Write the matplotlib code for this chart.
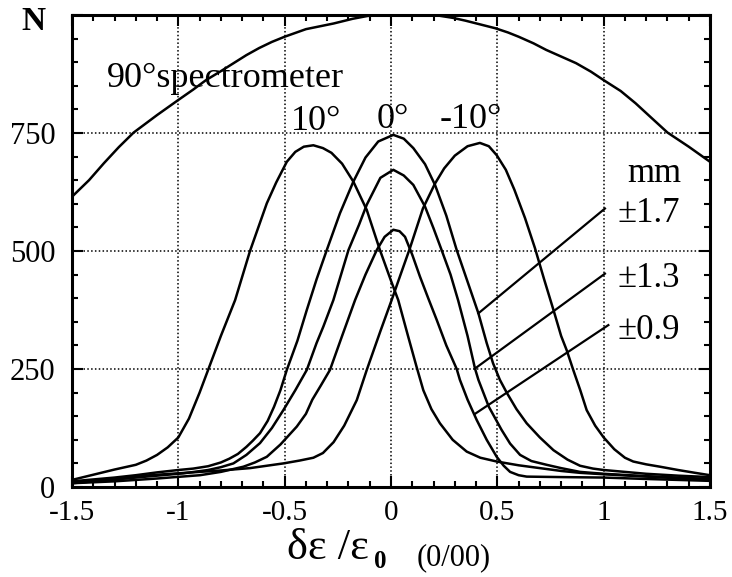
import matplotlib.pyplot as plt
from matplotlib.ticker import MultipleLocator

plt.rcParams['font.family'] = ['Liberation Serif', 'DejaVu Serif']

# 90 degree spectrometer acceptance curve
spec_x = [-1.5, -1.42, -1.35, -1.28, -1.21, -1.1, -1.0, -0.93, -0.87, -0.8, -0.74, -0.68,
          -0.62, -0.56, -0.5, -0.4, -0.27, -0.18, -0.11, -0.04, 0.05, 0.15, 0.22, 0.29,
          0.35, 0.42, 0.49, 0.55, 0.6, 0.67, 0.73, 0.8, 0.87, 0.94, 1.0, 1.08, 1.15,
          1.22, 1.3, 1.35, 1.4, 1.45, 1.5]
spec_n = [615, 650, 686, 720, 751, 788, 820, 842, 862, 881, 898, 915,
          930, 943, 954, 970, 982, 992, 998, 1000, 1000, 1000, 999, 994,
          988, 980, 972, 963, 954, 940, 926, 912, 898, 880, 862, 839, 813,
          784, 751, 736, 721, 705, 689]

# 10 deg
p10_x = [-1.5, -1.4, -1.3, -1.2, -1.15, -1.1, -1.05, -1.0, -0.95, -0.9, -0.86, -0.8,
         -0.733, -0.7, -0.663, -0.62, -0.584, -0.54, -0.49, -0.45, -0.41, -0.365, -0.32,
         -0.28, -0.23, -0.177, -0.114, -0.052, 0.0, 0.034, 0.08, 0.12, 0.152, 0.19, 0.23,
         0.29, 0.356, 0.42, 0.497, 0.6, 0.7, 0.8, 0.889, 1.0, 1.2, 1.5]
p10_n = [15, 26, 37, 47, 56, 68, 84, 105, 145, 200, 248, 320,
         396, 445, 500, 555, 601, 645, 689, 710, 721, 724, 718,
         708, 685, 647, 587, 502, 437, 396, 320, 255, 205, 165, 135,
         100, 75, 62, 54, 46, 40, 34, 30, 27, 22, 15]

# -10 deg
m10_x = [-1.5, -1.3, -1.133, -1.0, -0.8, -0.663, -0.569, -0.506, -0.43, -0.365, -0.32,
         -0.27, -0.22, -0.161, -0.114, -0.05, 0.003, 0.045, 0.089, 0.15, 0.207, 0.25, 0.3,
         0.36, 0.418, 0.46, 0.497, 0.54, 0.58, 0.63, 0.677, 0.72, 0.764, 0.8, 0.826, 0.857,
         0.89, 0.92, 0.96, 1.0, 1.05, 1.1, 1.139, 1.2, 1.265, 1.35, 1.43, 1.5]
m10_n = [8, 16, 25, 29, 35, 40, 46, 50, 56, 62, 72,
         95, 130, 184, 248, 330, 396, 450, 506, 590, 643, 675, 702,
         722, 729, 722, 703, 672, 630, 570, 506, 440, 375, 320, 290, 248,
         205, 163, 130, 105, 80, 62, 54, 48, 43, 36, 30, 25]

# 0 deg, slit +-1.7 mm
z17_x = [-1.5, -1.3, -1.2, -1.1, -1.0, -0.93, -0.86, -0.8, -0.76, -0.72, -0.68, -0.65,
         -0.616, -0.58, -0.55, -0.52, -0.49, -0.44, -0.396, -0.35, -0.302, -0.24, -0.177,
         -0.12, -0.06, 0.011, 0.06, 0.105, 0.16, 0.207, 0.26, 0.309, 0.36, 0.411, 0.45,
         0.48, 0.512, 0.544, 0.59, 0.638, 0.7, 0.764, 0.83, 0.889, 0.95, 1.0, 1.1, 1.2,
         1.35, 1.5]
z17_n = [12, 20, 25, 31, 36, 39, 44, 52, 60, 70, 85, 98,
         114, 140, 170, 205, 248, 310, 375, 440, 502, 580, 647,
         698, 732, 746, 738, 718, 684, 640, 575, 502, 435, 368, 305,
         262, 227, 200, 165, 135, 105, 78, 58, 45, 39, 36, 32, 28,
         24, 21]

# 0 deg, slit +-1.3 mm
z13_x = [-1.5, -1.3, -1.2, -1.1, -0.976, -0.86, -0.8, -0.741, -0.68, -0.616, -0.56, -0.506,
         -0.45, -0.396, -0.35, -0.318, -0.271, -0.2, -0.15, -0.114, -0.05, 0.011, 0.06,
         0.105, 0.16, 0.2, 0.238, 0.28, 0.316, 0.36, 0.395, 0.411, 0.46, 0.52, 0.56, 0.607,
         0.66, 0.732, 0.8, 0.889, 1.0, 1.2, 1.5]
z13_n = [10, 16, 20, 24, 29, 36, 42, 50, 68, 93, 125, 163,
         205, 248, 305, 340, 396, 502, 556, 598, 655, 672, 660,
         640, 594, 548, 502, 450, 395, 320, 251, 227, 170, 121, 92, 68,
         55, 47, 40, 32, 28, 23, 17]

# 0 deg, slit +-0.9 mm
z09_x = [-1.5, -1.3, -1.1, -0.898, -0.8, -0.694, -0.64, -0.584, -0.52, -0.443, -0.4, -0.37,
         -0.33, -0.287, -0.23, -0.169, -0.12, -0.067, -0.03, 0.011, 0.04, 0.066, 0.1, 0.136,
         0.175, 0.215, 0.26, 0.309, 0.324, 0.36, 0.403, 0.45, 0.497, 0.53, 0.56, 0.6, 0.638,
         0.8, 1.0, 1.2, 1.5]
z09_n = [8, 12, 18, 25, 32, 43, 52, 64, 90, 128, 155, 185,
         215, 248, 320, 396, 450, 502, 530, 545, 542, 530, 492, 446,
         400, 354, 300, 250, 227, 185, 142, 100, 64, 45, 32, 25, 22,
         21, 20, 17, 13]

slit_labels = ['\u00b11.7', '\u00b11.3', '\u00b10.9']
slit_text_y = [561, 424, 314]
# leader lines: (x, N) at the label end, (x, N) on the curve
leader_from = [(1.006, 590), (1.006, 452), (1.022, 343)]
leader_to = [(0.411, 368), (0.395, 251), (0.395, 155)]

W, H = 732, 577
fig = plt.figure(figsize=(W / 100, H / 100), dpi=100)
ax = fig.add_axes([72 / W, 1 - 487 / H, (710 - 72) / W, (487 - 15) / H])

for xs, ns in [(spec_x, spec_n), (p10_x, p10_n), (m10_x, m10_n),
               (z17_x, z17_n), (z13_x, z13_n), (z09_x, z09_n)]:
    ax.plot(xs, ns, color='black', lw=1.8, solid_joinstyle='round',
            solid_capstyle='round', zorder=3)

ax.set_xlim(-1.5, 1.5)
ax.set_ylim(0, 1000)
ax.xaxis.set_minor_locator(MultipleLocator(0.1))
ax.yaxis.set_minor_locator(MultipleLocator(50))
ax.set_xticks([-1.5, -1, -0.5, 0, 0.5, 1, 1.5])
ax.set_xticklabels(['-1.5', '-1', '-0.5', '0', '0.5', '1', '1.5'])
ax.set_yticks([0, 250, 500, 750, 1000])
ax.set_yticklabels(['0', '250', '500', '750', ''])
ax.tick_params(which='both', direction='in', top=True, right=True, width=1.5, color='black')
ax.tick_params(which='major', length=8)
ax.tick_params(which='minor', length=4)
ax.tick_params(axis='y', labelsize=22, pad=12)
ax.tick_params(axis='x', labelsize=21, pad=9)
ax.grid(which='major', color='black', linestyle=(0, (1, 1.5)), lw=1.1)
for sp in ax.spines.values():
    sp.set_linewidth(2.2)

ax.text(-1.335, 847, '90\u00b0spectrometer', fontsize=26, va='baseline', ha='left')
ax.text(-0.353, 756, '10\u00b0', fontsize=26, va='baseline', ha='center')
ax.text(0.009, 761, '0\u00b0', fontsize=26, va='baseline', ha='center')
ax.text(0.376, 761, '-10\u00b0', fontsize=26, va='baseline', ha='center')
ax.text(1.11, 646, 'mm', fontsize=25, va='baseline', ha='left')
for lab, ty, p0, p1 in zip(slit_labels, slit_text_y, leader_from, leader_to):
    ax.text(1.063, ty, lab, fontsize=25, va='baseline', ha='left')
    ax.plot([p0[0], p1[0]], [p0[1], p1[1]], color='black', lw=1.6, zorder=3)

fig.text(33 / W, 1 - 22 / H, 'N', fontsize=24, fontweight='bold', ha='center', va='center')
fig.text(287 / W, 1 - 559 / H, '\u03b4\u03b5 /\u03b5', fontsize=32, ha='left', va='baseline')
fig.text(374 / W, 1 - 568 / H, '0', fontsize=18, fontweight='bold', ha='left', va='baseline')
fig.text(417 / W, 1 - 565 / H, '(0/00)', fontsize=22, ha='left', va='baseline')

fig.savefig('out.png', dpi=100)
